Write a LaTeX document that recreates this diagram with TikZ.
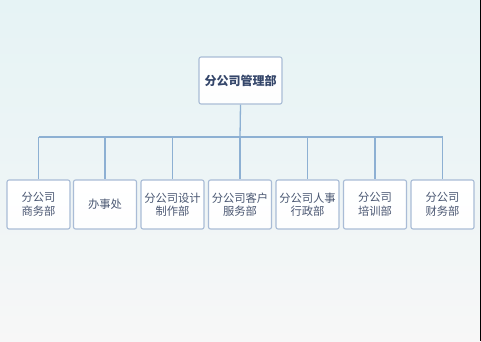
\documentclass[tikz,border=0pt]{standalone}
\usepackage{fontspec}
\newfontfamily\cjk{Noto Sans CJK SC}
\definecolor{bgtop}{HTML}{E6F3F5}
\definecolor{bgbot}{HTML}{F7F7F7}
\definecolor{boxline}{HTML}{A9BCD6}
\definecolor{linkc}{HTML}{8DB0D3}
\definecolor{txt}{HTML}{4A5772}
\definecolor{toptxt}{HTML}{34466A}
\begin{document}
\begin{tikzpicture}[x=1pt,y=-1pt,
  orgbox/.style={draw=boxline,line width=1.1pt,rounded corners=2pt,fill=white,
    top color=white,bottom color=white!92!bgtop,
    minimum width=63pt,minimum height=49pt,inner sep=1pt,align=center,
    font=\cjk\fontsize{11.3pt}{13.5pt}\selectfont,text=txt},
  topbox/.style={orgbox,minimum width=83pt,minimum height=47pt,text=toptxt,font=\cjk\bfseries\fontsize{12pt}{14pt}\selectfont},
  link/.style={draw=linkc,line width=1.3pt}]
\shade[top color=bgtop,bottom color=bgbot,middle color=bgtop!60!bgbot,shading angle=0] (0,0) rectangle (481,341);
\useasboundingbox (0,0) rectangle (481,341);
\draw[black,line width=1.2pt] (480.4,0) -- (480.4,341);
\node[topbox] (top) at (240.5,80.5) {分公司管理部};
\node[orgbox] (c1) at (38.5,204.5) {分公司\\商务部};
\node[orgbox] (c2) at (105,204.5) {办事处};
\node[orgbox] (c3) at (172.5,204.5) {分公司设计\\制作部};
\node[orgbox] (c4) at (240,204.5) {分公司客户\\服务部};
\node[orgbox] (c5) at (307.5,204.5) {分公司人事\\行政部};
\node[orgbox] (c6) at (375,204.5) {分公司\\培训部};
\node[orgbox] (c7) at (442.5,204.5) {分公司\\财务部};
\coordinate (bar) at (240,137);
\draw[link] (top.south) -- (bar);
\draw[link] (c1.north |- bar) -- (c7.north |- bar);
\foreach \c in {c1,c2,c3,c4,c5,c6,c7}{
  \draw[link] (\c.north |- bar) -- (\c.north);
}
\end{tikzpicture}
\end{document}
